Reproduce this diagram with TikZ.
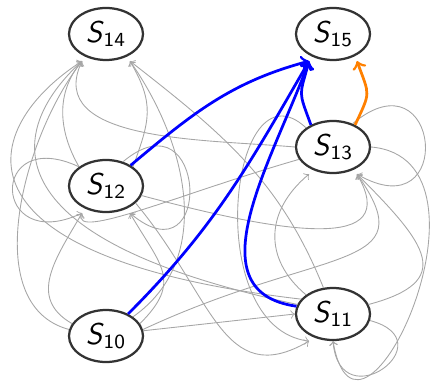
\documentclass[tikz,border=0pt]{standalone}
\usetikzlibrary{shapes.geometric}
\newcommand{\stname}[1]{\textsf{\textit{S}}\textsubscript{\textsf{#1}}}
\begin{document}
\begin{tikzpicture}[x=0.4pt, y=0.4pt,
  stnode/.style={ellipse, draw=black!80, line width=0.9pt, minimum width=29.6pt, minimum height=20.8pt, inner sep=0pt, font=\large},
  trans/.style={->, draw=black!35, line width=0.35pt},
  best/.style={->, draw=blue, line width=1.1pt},
  alt/.style={->, draw=orange, line width=1.1pt}]
  \useasboundingbox (0,0) rectangle (439,387);
  % states
  \node[stnode] (s14) at (106,353) {\stname{14}};
  \node[stnode] (s15) at (333,353) {\stname{15}};
  \node[stnode] (s13) at (333,240) {\stname{13}};
  \node[stnode] (s12) at (106,201) {\stname{12}};
  \node[stnode] (s10) at (106,51) {\stname{10}};
  \node[stnode] (s11) at (333,73) {\stname{11}};
  % into S14
  \draw[trans] (s12.north west) to[out=120,in=-130] ([xshift=-9.6pt]s14.south);
  \draw[trans] (s10.170) to[out=165,in=-128,looseness=0.9] ([xshift=-9.6pt]s14.south);
  \draw[trans] (s11.165) .. controls (-20,150) and (10,260) .. ([xshift=-9.6pt]s14.south);
  \draw[trans] (s11.155) .. controls (-60,130) and (-20,260) .. ([xshift=-9.6pt]s14.south);
  \draw[trans] (s13.west) to[out=175,in=-115] ([xshift=-9.6pt]s14.south);
  \draw[trans] (s12.north east) to[out=70,in=-60,looseness=1.2] ([xshift=9.6pt]s14.south);
  \draw[trans] (s11.110) to[out=112,in=-38] ([xshift=9.6pt]s14.south);
  \draw[trans] (s10.north east) to[out=35,in=-55] ([xshift=9.6pt]s14.south);
  % into S13
  \draw[trans] (s11.north west) to[out=140,in=-140,looseness=1.2] ([xshift=-9.6pt]s13.south);
  \draw[trans] (s13.50) .. controls +(40:115) and +(-30:115) .. ([xshift=9.6pt]s13.south);
  \draw[trans] (s12.-15) .. controls +(-15:150) and +(-60:90) .. ([xshift=9.6pt]s13.south);
  \draw[trans] (s10.10) .. controls +(25:200) and +(-55:120) .. ([xshift=9.6pt]s13.south);
  \draw[trans] (s11.15) .. controls +(15:90) and +(-45:100) .. ([xshift=9.6pt]s13.south);
  % into S12
  \draw[trans] (s12.north west) .. controls +(155:100) and +(-155:100) .. ([xshift=-9.6pt]s12.south);
  \draw[trans] (s13.200) .. controls +(196:120) and +(-110:30) .. ([xshift=-9.6pt]s12.south);
  \draw[trans] (s10.160) to[out=150,in=-120,looseness=1.2] ([xshift=-9.6pt]s12.south);
  \draw[trans] (s12.55) .. controls +(40:110) and +(-40:110) .. ([xshift=9.6pt]s12.south);
  \draw[trans] (s10.20) to[out=45,in=-60,looseness=1.4] ([xshift=9.6pt]s12.south);
  % into S11
  \draw[trans] (s10.8) -- (s11.west);
  \draw[trans] (s12.-30) .. controls +(-50:120) and +(-150:100) .. ([xshift=-9.6pt]s11.south);
  \draw[trans] (s13.north west) .. controls (230,330) and (200,60) .. ([xshift=-9.6pt]s11.south);
  \draw[trans] (s11.-10) .. controls +(-15:80) and +(-85:80) .. (s11.south);
  \draw[trans] (s13.east) .. controls +(-5:140) and +(-80:150) .. (s11.south);
  % into S15
  \draw[best] (s12.40) to[out=40,in=-165] ([xshift=-9.6pt]s15.south);
  \draw[best] (s10.45) to[out=45,in=-120] ([xshift=-9.6pt]s15.south);
  \draw[best] (s11.168) to[out=172,in=-110,looseness=1.1] ([xshift=-9.6pt]s15.south);
  \draw[best] (s13.135) to[out=110,in=-105,looseness=1.5] ([xshift=-9.6pt]s15.south);
  \draw[alt] (s13.45) to[out=65,in=-70,looseness=1.5] ([xshift=9.6pt]s15.south);
\end{tikzpicture}
\end{document}
